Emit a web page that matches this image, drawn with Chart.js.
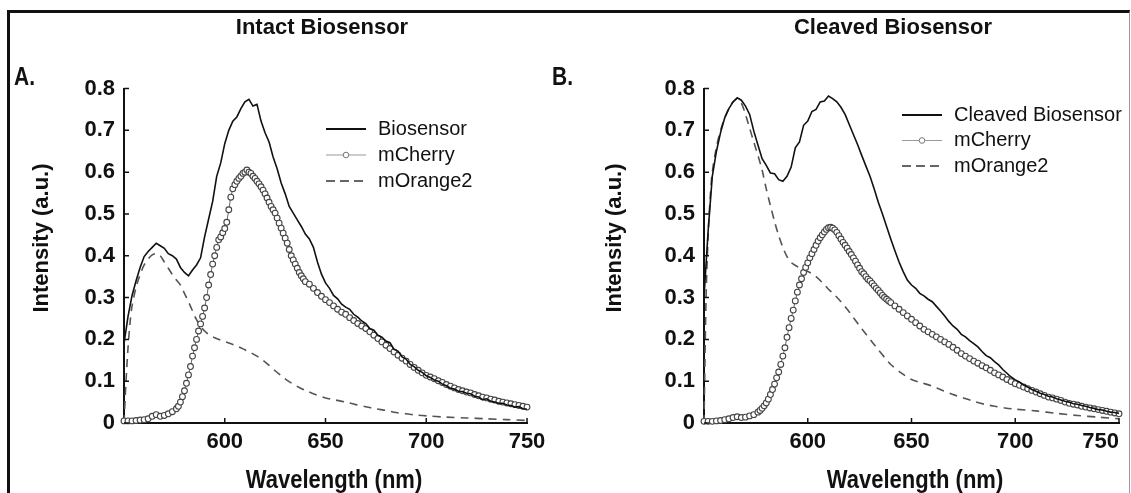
<!DOCTYPE html>
<html>
<head>
<meta charset="utf-8">
<title>Intact vs Cleaved Biosensor</title>
<script src="https://cdn.jsdelivr.net/npm/chart.js@4.4.1/dist/chart.umd.min.js"></script>
<style>
  html, body { margin: 0; padding: 0; background: #fff; }
  body { width: 1131px; height: 493px; position: relative; overflow: hidden; }
  #frame {
    position: absolute; left: 7px; top: 10px; width: 1123px; height: 500px;
    box-sizing: border-box;
    border-top: 3px solid #111; border-left: 3px solid #111; border-right: 1px solid #999;
  }
  canvas { position: absolute; left: 0; top: 0; }
</style>
</head>
<body>
<div id="frame"></div>
<canvas id="intactChart" width="1131" height="493"></canvas>
<canvas id="cleavedChart" width="1131" height="493"></canvas>
<script>
const INK = "#111";
const SANS = '"Liberation Sans", Arial, sans-serif';

Chart.defaults.color = INK;

// Wavelength grids (nm) the curves were read on
const wlStep2 = [
  550, 552, 554, 556, 558, 560, 562, 564, 566, 568,
  570, 572, 574, 576, 578, 580, 582, 584, 586, 588,
  590, 592, 594, 596, 598, 600, 602, 604, 606, 608,
  610, 612, 614, 616, 618, 620, 622, 624, 626, 628,
  630, 632, 634, 636, 638, 640, 642, 644, 646, 648,
  650, 652, 654, 656, 658, 660, 662, 664, 666, 668,
  670, 672, 674, 676, 678, 680, 682, 684, 686, 688,
  690, 692, 694, 696, 698, 700, 702, 704, 706, 708,
  710, 712, 714, 716, 718, 720, 722, 724, 726, 728,
  730, 732, 734, 736, 738, 740, 742, 744, 746, 748,
  750,
];

const wlCherry = [
  550, 552, 554, 556, 558, 560, 562, 564, 566, 568, 570, 572, 574, 576,
  577, 578, 579, 580, 581, 582, 583, 584, 585, 586,
  587, 588, 589, 590, 591, 592, 593, 594, 595, 596,
  597, 598, 599, 600, 601, 602, 603, 604, 605, 606,
  607, 608, 609, 610, 611, 612, 613, 614, 615, 616,
  617, 618, 619, 620, 621, 622, 623, 624, 625, 626,
  627, 628, 629, 630, 631, 632, 633, 634, 635, 636,
  637, 638, 639, 640,
  642, 644, 646, 648, 650, 652, 654, 656, 658, 660,
  662, 664, 666, 668, 670, 672, 674, 676, 678, 680,
  682, 684, 686, 688, 690, 692, 694, 696, 698, 700,
  702, 704, 706, 708, 710, 712, 714, 716, 718, 720,
  722, 724, 726, 728, 730, 732, 734, 736, 738, 740,
  742, 744, 746, 748, 750,
];

const wlOrange = [
  550, 551, 552, 553, 554,
  556, 558, 560, 562, 564, 566, 568, 570, 572, 574, 576, 578, 580, 582, 584, 586, 588, 590, 592,
  595, 598, 601, 604, 607, 610, 613, 616, 619, 622, 625, 628, 631, 634, 637, 640,
  645, 650, 655, 660, 665, 670, 675, 680, 685, 690, 695, 700,
  710, 720, 730, 740, 750,
];

// Intact biosensor panel (A)
const intactBiosensor = [
  0.19, 0.255, 0.305, 0.34, 0.372, 0.398, 0.41, 0.42, 0.43, 0.424,
  0.418, 0.405, 0.4, 0.392, 0.372, 0.36, 0.352, 0.366, 0.378, 0.395,
  0.445, 0.488, 0.53, 0.59, 0.622, 0.668, 0.7, 0.722, 0.732, 0.752,
  0.768, 0.774, 0.758, 0.762, 0.722, 0.694, 0.672, 0.636, 0.608, 0.574,
  0.548, 0.518, 0.502, 0.486, 0.47, 0.452, 0.44, 0.42, 0.385, 0.356,
  0.335, 0.322, 0.305, 0.297, 0.284, 0.277, 0.272, 0.26, 0.253, 0.244,
  0.238, 0.226, 0.222, 0.21, 0.205, 0.196, 0.192, 0.176, 0.172, 0.158,
  0.153, 0.14, 0.135, 0.126, 0.121, 0.113, 0.109, 0.103, 0.1, 0.093,
  0.089, 0.083, 0.081, 0.076, 0.075, 0.071, 0.07, 0.064, 0.062, 0.056,
  0.058, 0.052, 0.05, 0.047, 0.047, 0.043, 0.042, 0.038, 0.039, 0.034,
  0.033,
];

const intactCherry = [
  0.005, 0.005, 0.005, 0.006, 0.007, 0.008, 0.01, 0.016, 0.02, 0.016, 0.018, 0.022, 0.027, 0.034,
  0.04, 0.05, 0.063, 0.077, 0.095, 0.115, 0.135, 0.16, 0.18, 0.2,
  0.22, 0.237, 0.255, 0.275, 0.3, 0.33, 0.355, 0.38, 0.4, 0.42,
  0.438, 0.445, 0.455, 0.465, 0.48, 0.51, 0.54, 0.56, 0.57, 0.578,
  0.585, 0.59, 0.597, 0.6, 0.605, 0.6, 0.597, 0.59, 0.585, 0.578,
  0.572, 0.565, 0.557, 0.548, 0.538, 0.528, 0.518, 0.51, 0.502, 0.49,
  0.478, 0.466, 0.454, 0.442, 0.43, 0.415, 0.4, 0.39, 0.38, 0.37,
  0.36, 0.352, 0.345, 0.338,
  0.332, 0.322, 0.312, 0.303, 0.295, 0.288, 0.28, 0.272, 0.265, 0.26,
  0.252, 0.245, 0.238, 0.232, 0.226, 0.218, 0.21, 0.202, 0.194, 0.186,
  0.178, 0.17, 0.162, 0.155, 0.148, 0.14, 0.133, 0.126, 0.12, 0.114,
  0.11, 0.106, 0.101, 0.097, 0.092, 0.088, 0.084, 0.08, 0.077, 0.074,
  0.072, 0.068, 0.065, 0.062, 0.06, 0.057, 0.055, 0.052, 0.05, 0.048,
  0.046, 0.044, 0.042, 0.04, 0.038,
];

const intactOrange = [
  0, 0.1, 0.18, 0.24, 0.28,
  0.325, 0.355, 0.378, 0.392, 0.402, 0.405, 0.4, 0.385, 0.37, 0.355, 0.342, 0.33, 0.31, 0.29, 0.268, 0.247, 0.232, 0.22, 0.212,
  0.204, 0.198, 0.193, 0.188, 0.182, 0.175, 0.168, 0.16, 0.15, 0.138, 0.125, 0.113, 0.102, 0.093, 0.085, 0.078,
  0.068, 0.06, 0.055, 0.05, 0.044, 0.039, 0.034, 0.03, 0.025, 0.022, 0.019, 0.017,
  0.014, 0.012, 0.01, 0.008, 0.006,
];

// Cleaved biosensor panel (B)
const cleavedBiosensor = [
  0.3, 0.46, 0.59, 0.65, 0.695, 0.73, 0.752, 0.768, 0.778, 0.772,
  0.758, 0.738, 0.698, 0.665, 0.632, 0.616, 0.598, 0.596, 0.582, 0.578,
  0.59, 0.612, 0.658, 0.672, 0.712, 0.722, 0.745, 0.75, 0.768, 0.77,
  0.782, 0.776, 0.768, 0.755, 0.738, 0.714, 0.69, 0.666, 0.64, 0.615,
  0.59, 0.56, 0.528, 0.5, 0.47, 0.44, 0.412, 0.385, 0.362, 0.342,
  0.33, 0.322, 0.31, 0.304, 0.296, 0.29, 0.279, 0.268, 0.256, 0.243,
  0.232, 0.224, 0.212, 0.206, 0.197, 0.19, 0.182, 0.171, 0.161, 0.156,
  0.147, 0.139, 0.128, 0.119, 0.11, 0.103, 0.098, 0.091, 0.086, 0.08,
  0.076, 0.071, 0.068, 0.064, 0.062, 0.058, 0.055, 0.052, 0.05, 0.046,
  0.045, 0.042, 0.04, 0.037, 0.035, 0.032, 0.031, 0.028, 0.026, 0.025,
  0.023,
];

const cleavedCherry = [
  0.004, 0.004, 0.004, 0.005, 0.006, 0.008, 0.01, 0.013, 0.015, 0.013, 0.014, 0.017, 0.02, 0.026,
  0.03, 0.035, 0.041, 0.048, 0.057, 0.068, 0.08, 0.093, 0.108, 0.122,
  0.14, 0.16, 0.18, 0.205, 0.228, 0.25, 0.27, 0.292, 0.313, 0.33,
  0.345, 0.36, 0.372, 0.383, 0.395, 0.405, 0.415, 0.425, 0.435, 0.443,
  0.45, 0.457, 0.463, 0.467, 0.468, 0.466, 0.462, 0.456, 0.448, 0.44,
  0.432, 0.425, 0.418, 0.41, 0.403, 0.395, 0.387, 0.378, 0.37, 0.362,
  0.357, 0.35, 0.344, 0.34, 0.334, 0.328, 0.322, 0.317, 0.311, 0.305,
  0.3, 0.296, 0.292, 0.288,
  0.28, 0.272, 0.264, 0.256, 0.248, 0.24, 0.232, 0.224, 0.218, 0.212,
  0.206, 0.2, 0.194, 0.188, 0.181, 0.174, 0.166, 0.16, 0.154, 0.148,
  0.143, 0.137, 0.132, 0.126, 0.12, 0.115, 0.11, 0.104, 0.099, 0.094,
  0.09, 0.086, 0.082, 0.078, 0.074, 0.07, 0.066, 0.062, 0.06, 0.057,
  0.054, 0.05, 0.047, 0.045, 0.043, 0.04, 0.038, 0.036, 0.034, 0.032,
  0.03, 0.028, 0.026, 0.024, 0.022,
];

const cleavedOrange = [
  0, 0.3, 0.45, 0.54, 0.6,
  0.66, 0.7, 0.73, 0.752, 0.768, 0.775, 0.765, 0.738, 0.705, 0.672, 0.64, 0.605, 0.56, 0.52, 0.482, 0.448, 0.42, 0.398, 0.384,
  0.374, 0.366, 0.36, 0.35, 0.336, 0.32, 0.306, 0.29, 0.272, 0.252, 0.232, 0.213, 0.194, 0.175, 0.157, 0.14,
  0.12, 0.104, 0.096, 0.088, 0.078, 0.068, 0.06, 0.052, 0.045, 0.04, 0.036, 0.033,
  0.029, 0.023, 0.018, 0.014, 0.01,
];

// Axis labels
const xTickLabels = ["600", "650", "700", "750"];
const yTickLabels = ["0", "0.1", "0.2", "0.3", "0.4", "0.5", "0.6", "0.7", "0.8"];

function pairs(xs, ys) {
  return xs.map((x, i) => ({ x: x, y: ys[i] }));
}

// Text a bit taller than wide, like the scanned figure
function tallText(ctx, text, x, y, sy) {
  ctx.save();
  ctx.translate(x, y);
  ctx.scale(1, sy);
  ctx.fillText(text, 0, 0);
  ctx.restore();
}

// Draws titles, panel letter, axis titles, inward ticks and the in-plot legend
const decorPlugin = {
  id: "decor",
  afterDraw(chart, args, o) {
    const ctx = chart.ctx;
    const x = chart.scales.x;
    const y = chart.scales.y;
    ctx.save();
    ctx.fillStyle = INK;
    ctx.strokeStyle = INK;

    // tick marks pointing into the plot
    ctx.lineWidth = 1.5;
    ctx.beginPath();
    x.ticks.forEach((t) => {
      if (!xTickLabels.includes(String(t.value))) return;
      const px = x.getPixelForValue(t.value);
      ctx.moveTo(px, y.bottom);
      ctx.lineTo(px, y.bottom - 5);
    });
    y.ticks.forEach((t) => {
      const py = y.getPixelForValue(t.value);
      ctx.moveTo(x.left, py);
      ctx.lineTo(x.left + 5, py);
    });
    ctx.stroke();

    // panel title
    ctx.font = "bold 22px " + SANS;
    ctx.textAlign = "center";
    ctx.textBaseline = "middle";
    ctx.fillText(o.title, o.titleX, 28);

    // panel letter
    ctx.font = "bold 21px " + SANS;
    ctx.textAlign = "left";
    tallText(ctx, o.letter, o.letterX, 78, 1.2);

    // x axis title
    ctx.font = "bold 22px " + SANS;
    ctx.textAlign = "center";
    ctx.textBaseline = "alphabetic";
    tallText(ctx, "Wavelength (nm)", o.xTitleX, 488, 1.16);

    // y axis title
    ctx.save();
    ctx.translate(o.yTitleX, 238);
    ctx.rotate(-Math.PI / 2);
    ctx.textBaseline = "middle";
    ctx.fillText("Intensity (a.u.)", 0, 0);
    ctx.restore();

    // legend
    ctx.font = "20px " + SANS;
    ctx.textAlign = "left";
    ctx.textBaseline = "middle";
    chart.data.datasets.forEach((ds, i) => {
      const ly = o.legendY + i * o.legendGap;
      const x0 = o.legendX;
      const x1 = o.legendX + 40;
      ctx.save();
      ctx.strokeStyle = ds.legendColor || ds.borderColor;
      ctx.lineWidth = ds.legendWidth || ds.borderWidth;
      ctx.setLineDash(ds.legendDash || []);
      ctx.beginPath();
      ctx.moveTo(x0, ly);
      ctx.lineTo(x1, ly);
      ctx.stroke();
      if (ds.pointRadius > 0) {
        ctx.setLineDash([]);
        ctx.beginPath();
        ctx.arc((x0 + x1) / 2, ly, 2.8, 0, 2 * Math.PI);
        ctx.fillStyle = "#fff";
        ctx.fill();
        ctx.strokeStyle = "#777";
        ctx.lineWidth = 1;
        ctx.stroke();
      }
      ctx.restore();
      ctx.fillText(ds.label, o.legendX + 52, ly);
    });

    ctx.restore();
  },
};

function makeChart(canvasId, labels, bio, cherry, orange, area, decor) {
  const ctx = document.getElementById(canvasId).getContext("2d");
  const axisFont = { family: SANS, size: 22, weight: "bold" };
  return new Chart(ctx, {
    type: "line",
    data: {
      datasets: [
        {
          label: labels[0],
          data: pairs(wlStep2, bio),
          borderColor: INK,
          borderWidth: 1.6,
          legendWidth: 2,
          pointRadius: 0,
          tension: 0,
          clip: false,
        },
        {
          label: labels[1],
          data: pairs(wlCherry, cherry),
          borderColor: "#666",
          borderWidth: 1,
          legendColor: "#999",
          pointRadius: 2.9,
          pointBorderColor: "#444",
          pointBackgroundColor: "#fff",
          pointBorderWidth: 1.1,
          tension: 0,
          clip: false,
        },
        {
          label: labels[2],
          data: pairs(wlOrange, orange),
          borderColor: "#555",
          borderWidth: 1.6,
          borderDash: [8, 6],
          legendDash: [9, 5],
          legendWidth: 2,
          legendColor: "#666",
          pointRadius: 0,
          tension: 0.3,
          clip: false,
        },
      ],
    },
    options: {
      responsive: false,
      animation: false,
      devicePixelRatio: 1,
      events: [],
      layout: {
        padding: {
          left: area.left - 60,
          right: 1131 - area.right,
          top: 88.5,
          bottom: 25,
        },
      },
      scales: {
        x: {
          type: "linear",
          min: 550,
          max: 750,
          ticks: {
            stepSize: 50,
            autoSkip: false,
            maxRotation: 0,
            padding: 6,
            align: decor.xAlign,
            font: axisFont,
            color: INK,
            callback: (v) => (xTickLabels.includes(String(v)) ? String(v) : ""),
          },
          grid: { display: true, drawOnChartArea: false, drawTicks: false },
          border: { display: true, color: INK, width: 2 },
          afterFit(s) {
            s.height = 45;
            s.paddingLeft = 0;
            s.paddingRight = 0;
          },
        },
        y: {
          min: 0,
          max: 0.8,
          ticks: {
            stepSize: 0.1,
            padding: 9,
            font: axisFont,
            color: INK,
            callback: (v) => yTickLabels[Math.round(v * 10)],
          },
          grid: { display: true, drawOnChartArea: false, drawTicks: false },
          border: { display: true, color: INK, width: 2 },
          afterFit(s) {
            s.width = 60;
            s.paddingTop = 0;
            s.paddingBottom = 0;
          },
        },
      },
      plugins: {
        legend: { display: false },
        tooltip: { enabled: false },
        decor: decor,
      },
    },
    plugins: [decorPlugin],
  });
}

makeChart(
  "intactChart",
  ["Biosensor", "mCherry", "mOrange2"],
  intactBiosensor, intactCherry, intactOrange,
  { left: 124, right: 527 },
  {
    title: "Intact Biosensor", titleX: 322,
    letter: "A.", letterX: 14,
    xTitleX: 334, yTitleX: 42,
    legendX: 326, legendY: 129, legendGap: 26,
    xAlign: "center",
  }
);

makeChart(
  "cleavedChart",
  ["Cleaved Biosensor", "mCherry", "mOrange2"],
  cleavedBiosensor, cleavedCherry, cleavedOrange,
  { left: 704, right: 1119 },
  {
    title: "Cleaved Biosensor", titleX: 893,
    letter: "B.", letterX: 552,
    xTitleX: 915, yTitleX: 615,
    legendX: 902, legendY: 115, legendGap: 25.5,
    xAlign: "inner",
  }
);
</script>
</body>
</html>
